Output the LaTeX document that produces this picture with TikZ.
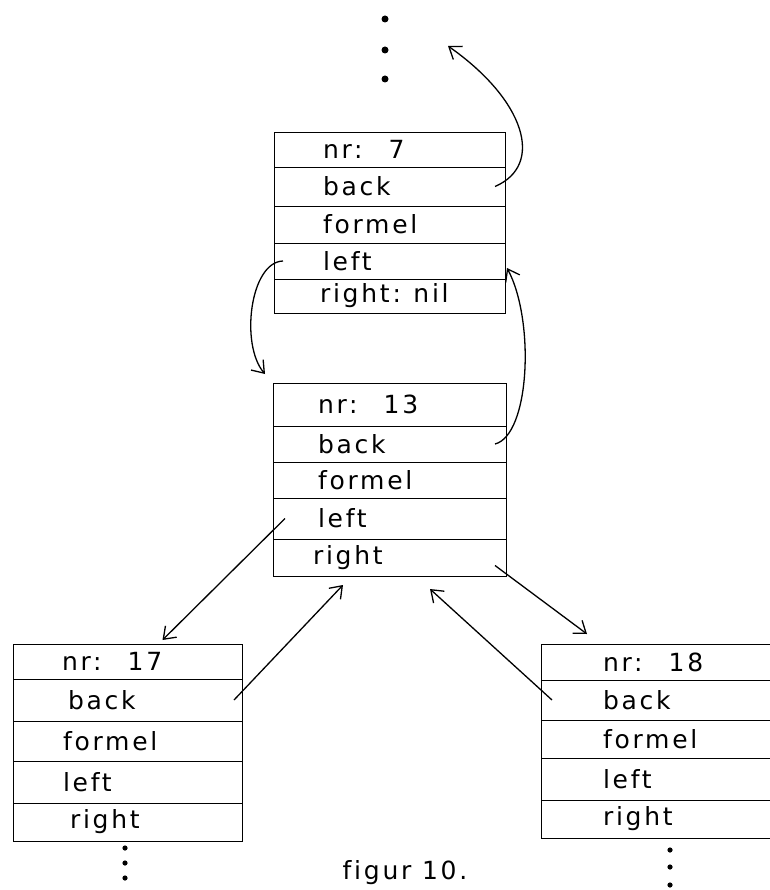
\documentclass[tikz,border=0pt]{standalone}
\usepackage{fontspec}
\newfontfamily\plotter[LetterSpace=11, Ligatures=NoCommon]{DejaVu Sans}
\usepackage{tikz}
\usetikzlibrary{positioning,arrows.meta}
\newcommand\fieldindent{0pt}
\newcommand\nrgap{\hspace{26pt}}

\begin{document}
\begin{tikzpicture}[
    x=1pt, y=-1pt,
    font=\plotter\fontsize{25}{29}\selectfont,
    field/.style={draw, line width=0.9pt, outer sep=0pt, inner xsep=0pt,
                  inner ysep=1pt, align=left,
                  execute at begin node={\hspace*{\fieldindent}}},
    indent/.code={\renewcommand\fieldindent{#1}},
    ptr/.style={-{Straight Barb[length=11pt, width=16pt]}, line width=1.3pt},
  ]
  \useasboundingbox (0,0) rectangle (769,890);

  % --- record nr 7 ---
  \begin{scope}[field/.append style={text width=231pt, indent=49pt}]
    \node[field, minimum height=35pt, anchor=north west] (r7nr) at (274,132) {nr:\nrgap7};
    \node[field, minimum height=39pt, below=0pt of r7nr] (r7back) {back};
    \node[field, minimum height=37pt, below=0pt of r7back] (r7formel) {formel};
    \node[field, minimum height=36pt, below=0pt of r7formel] (r7left) {left};
    \node[field, minimum height=34pt, below=0pt of r7left, indent=46pt] (r7right) {right: nil};
  \end{scope}

  % --- record nr 13 ---
  \begin{scope}[field/.append style={text width=233pt, indent=45pt}]
    \node[field, minimum height=43pt, anchor=north west] (r13nr) at (273,383) {nr:\nrgap13};
    \node[field, minimum height=36pt, below=0pt of r13nr] (r13back) {back};
    \node[field, minimum height=36pt, below=0pt of r13back] (r13formel) {formel};
    \node[field, minimum height=41pt, below=0pt of r13formel] (r13left) {left};
    \node[field, minimum height=37pt, below=0pt of r13left, indent=40pt] (r13right) {right};
  \end{scope}

  % --- record nr 17 ---
  \begin{scope}[field/.append style={text width=229pt, indent=49pt}]
    \node[field, minimum height=35pt, anchor=north west] (r17nr) at (13,644) {nr:\nrgap17};
    \node[field, minimum height=42pt, below=0pt of r17nr, indent=55pt] (r17back) {back};
    \node[field, minimum height=40pt, below=0pt of r17back, indent=50pt] (r17formel) {formel};
    \node[field, minimum height=42pt, below=0pt of r17formel, indent=50pt] (r17left) {left};
    \node[field, minimum height=38pt, below=0pt of r17left, indent=57pt] (r17right) {right};
  \end{scope}

  % --- record nr 18 (runs off the page on the right) ---
  \begin{scope}[field/.append style={text width=236pt, indent=62pt}]
    \node[field, minimum height=36pt, anchor=north west] (r18nr) at (541,644) {nr:\nrgap18};
    \node[field, minimum height=40pt, below=0pt of r18nr] (r18back) {back};
    \node[field, minimum height=38pt, below=0pt of r18back] (r18formel) {formel};
    \node[field, minimum height=42pt, below=0pt of r18formel] (r18left) {left};
    \node[field, minimum height=38pt, below=0pt of r18left] (r18right) {right};
  \end{scope}

  % pointers
  \coordinate (up7) at (448,46);
  \draw[ptr] ([xshift=-10pt]r7back.east) .. controls (545,165) and (525,100) .. (up7);
  \draw[ptr] ([xshift=9pt]r7left.west) .. controls (250,262) and (240,345)
    .. ([shift={(-8pt,9pt)}]r13nr.north west);
  \draw[ptr] ([xshift=-11pt]r13back.east) .. controls (530,435) and (535,320)
    .. ([xshift=2pt,yshift=-7pt]r7left.east);
  \draw[ptr] ([xshift=12pt]r13left.west) -- ([xshift=35pt,yshift=4pt]r17nr.north);
  \draw[ptr] ([xshift=-8pt]r17back.east) -- ([xshift=70pt,yshift=-9pt]r13right.south west);
  \draw[ptr] ([xshift=-11pt,yshift=-8pt]r13right.east) -- ([xshift=46pt,yshift=10pt]r18nr.north west);
  \draw[ptr] ([xshift=11pt]r18back.west) -- ([xshift=-76pt,yshift=-13pt]r13right.south east);

  % continuation dots
  \foreach \y in {19,50,79} \fill (385,\y) circle (3.5pt);
  \foreach \y in {848,863,878} \fill (125,\y) circle (2.6pt);
  \foreach \y in {850,867,885} \fill (670,\y) circle (2.6pt);

  \node[anchor=base] (caption) at (405,879) {figur 10.};
\end{tikzpicture}
\end{document}
